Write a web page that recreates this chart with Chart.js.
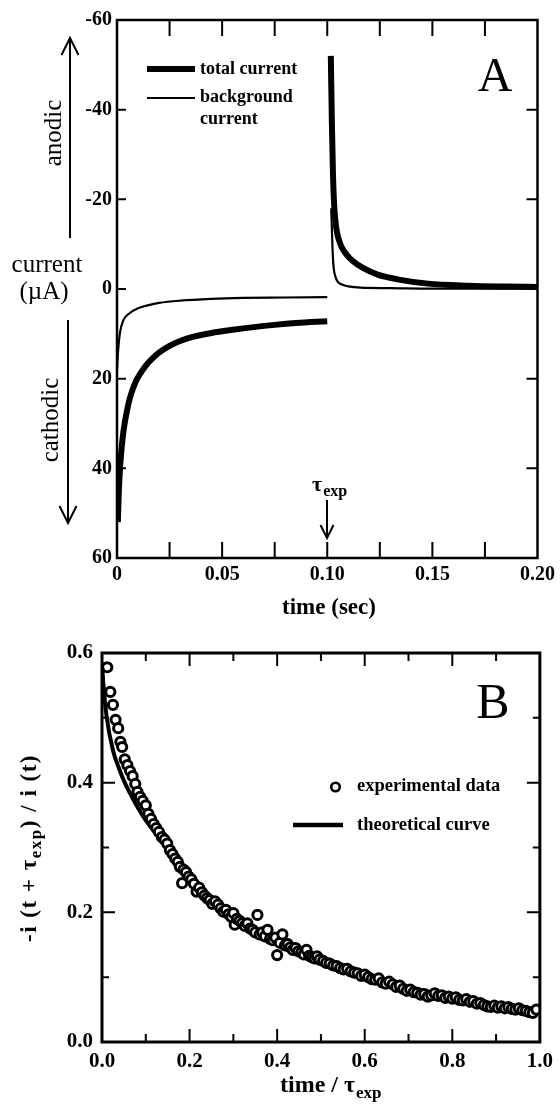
<!DOCTYPE html>
<html>
<head>
<meta charset="utf-8">
<script src="https://cdn.jsdelivr.net/npm/chart.js@4.4.0/dist/chart.umd.min.js"></script>
<style>
html, body { margin: 0; padding: 0; background: #fff; }
#wrapA { position: absolute; left: 0; top: 0; width: 560px; height: 620px; }
#wrapB { position: absolute; left: 0; top: 620px; width: 560px; height: 487px; }
</style>
</head>
<body>
<div id="wrapA"><canvas id="chartA" width="560" height="620"></canvas></div>
<div id="wrapB"><canvas id="chartB" width="560" height="487"></canvas></div>
<script>
// Panel A - current transients (sec, uA; cathodic plotted downward)
// a null current splits the trace at the potential step (tau_exp)
const totalTime = [0.0004, 0.0008, 0.0013, 0.002, 0.003, 0.004, 0.0055, 0.007, 0.009, 0.011, 0.014, 0.017, 0.02, 0.025, 0.03, 0.036, 0.045, 0.055, 0.065, 0.075, 0.085, 0.1,
    0.101,
    0.1017, 0.1022, 0.1027, 0.1032, 0.1038, 0.1045, 0.1055, 0.107, 0.109, 0.112, 0.117, 0.124, 0.134, 0.148, 0.167, 0.185, 0.2];
const totalCurrent = [52, 46, 41, 36.5, 32, 29, 25.5, 23, 20.6, 18.9, 16.9, 15.4, 14.2, 12.7, 11.6, 10.7, 9.8, 9.1, 8.5, 8.0, 7.6, 7.2,
    null,
    -52, -37, -26, -19.5, -15.5, -13, -11, -9.2, -7.8, -6.3, -4.7, -3.2, -2.1, -1.2, -0.75, -0.55, -0.45];
const bgTime = [0, 0.0005, 0.0014, 0.003, 0.006, 0.01, 0.015, 0.02, 0.03, 0.045, 0.06, 0.08, 0.1,
    0.101,
    0.1019, 0.1025, 0.103, 0.104, 0.105, 0.107, 0.11, 0.116, 0.13, 0.15, 0.2];
const bgCurrent = [18, 14, 9.8, 7, 5.4, 4.3, 3.6, 3.1, 2.6, 2.2, 2.0, 1.9, 1.8,
    null,
    -18, -9, -5, -2.6, -1.6, -1.0, -0.6, -0.3, -0.2, -0.1, -0.1];

const xTicksA = [0, 0.05, 0.1, 0.15, 0.2];
const xLabelsA = ['0', '0.05', '0.10', '0.15', '0.20'];
const xMarksA = [0.025, 0.05, 0.075, 0.1, 0.125, 0.15, 0.175];
const yTicksA = [-60, -40, -20, 0, 20, 40, 60];
const yLabelsA = ['-60', '-40', '-20', '0', '20', '40', '60'];
const yMarksA = [-40, -20, 0, 20, 40];

// Panel B - ratio -i(t+tau)/i(t) against t/tau
const expTime = [0.012, 0.019, 0.025, 0.031, 0.037, 0.042, 0.046, 0.052, 0.058, 0.064, 0.07, 0.076, 0.081, 0.087, 0.093, 0.1,
    0.106, 0.112, 0.118, 0.124, 0.13, 0.137, 0.143, 0.149, 0.155, 0.161, 0.167, 0.173, 0.178, 0.183, 0.186, 0.192, 0.198,
    0.204, 0.21, 0.216, 0.222, 0.228, 0.234, 0.24, 0.246, 0.252, 0.258, 0.265, 0.271, 0.277, 0.283, 0.289, 0.295, 0.3,
    0.303, 0.308, 0.314, 0.32, 0.326, 0.332, 0.338, 0.344, 0.35, 0.355, 0.36, 0.366, 0.372, 0.378, 0.384, 0.39, 0.396, 0.4,
    0.406, 0.412, 0.418, 0.424, 0.43, 0.436, 0.442, 0.448, 0.455, 0.461, 0.467, 0.473, 0.479, 0.485, 0.491, 0.497,
    0.505, 0.512, 0.52, 0.528, 0.536, 0.544, 0.552, 0.56, 0.568, 0.576, 0.584, 0.592, 0.6, 0.608, 0.616, 0.624, 0.632,
    0.64, 0.648, 0.656, 0.664, 0.672, 0.68, 0.688, 0.696, 0.704, 0.712, 0.72, 0.728, 0.736, 0.744, 0.752, 0.76, 0.768,
    0.776, 0.784, 0.792, 0.8, 0.808, 0.816, 0.824, 0.832, 0.84, 0.848, 0.856, 0.864, 0.872, 0.88, 0.888, 0.896, 0.904,
    0.912, 0.92, 0.928, 0.936, 0.944, 0.952, 0.96, 0.968, 0.976, 0.984, 0.992];
const expRatio = [0.578, 0.540, 0.520, 0.497, 0.484, 0.463, 0.455, 0.436, 0.427, 0.418, 0.410, 0.398, 0.386, 0.378, 0.372, 0.365,
    0.352, 0.344, 0.336, 0.330, 0.324, 0.316, 0.312, 0.306, 0.296, 0.290, 0.283, 0.278, 0.270, 0.245, 0.266, 0.262, 0.255,
    0.251, 0.244, 0.232, 0.238, 0.231, 0.226, 0.222, 0.219, 0.213, 0.217, 0.212, 0.206, 0.201, 0.204, 0.197, 0.193, 0.199,
    0.181, 0.190, 0.187, 0.183, 0.179, 0.183, 0.175, 0.173, 0.169, 0.196, 0.166, 0.169, 0.163, 0.173, 0.159, 0.157, 0.161, 0.134,
    0.153, 0.166, 0.149, 0.151, 0.146, 0.142, 0.145, 0.140, 0.138, 0.135, 0.142, 0.133, 0.131, 0.129, 0.132, 0.127,
    0.125, 0.122, 0.121, 0.118, 0.117, 0.114, 0.112, 0.113, 0.109, 0.107, 0.106, 0.102, 0.104, 0.100, 0.097, 0.096, 0.098,
    0.092, 0.090, 0.093, 0.089, 0.085, 0.087, 0.082, 0.079, 0.081, 0.077, 0.076, 0.073, 0.074, 0.070, 0.072, 0.075, 0.071,
    0.072, 0.068, 0.070, 0.067, 0.069, 0.065, 0.064, 0.066, 0.062, 0.063, 0.059, 0.060, 0.057, 0.055, 0.054, 0.056, 0.053,
    0.055, 0.052, 0.054, 0.051, 0.050, 0.052, 0.049, 0.048, 0.046, 0.045, 0.050];
const theoryTime = [0, 0.003, 0.0105, 0.025, 0.04, 0.052, 0.07, 0.085, 0.1, 0.123, 0.15, 0.175, 0.2, 0.25, 0.3, 0.35,
    0.4, 0.45, 0.5, 0.55, 0.6, 0.65, 0.7, 0.75, 0.8, 0.85, 0.9, 0.95, 1.0];
const theoryRatio = [0.585, 0.553, 0.502, 0.45, 0.42, 0.40, 0.376, 0.358, 0.342, 0.322, 0.298, 0.274, 0.252, 0.218, 0.192, 0.172,
    0.155, 0.14, 0.127, 0.115, 0.104, 0.094, 0.085, 0.077, 0.07, 0.064, 0.058, 0.053, 0.048];

const xTicksB = [0, 0.2, 0.4, 0.6, 0.8, 1.0];
const xLabelsB = ['0.0', '0.2', '0.4', '0.6', '0.8', '1.0'];
const xMarksB = [0.1, 0.2, 0.3, 0.4, 0.5, 0.6, 0.7, 0.8, 0.9];
const yTicksB = [0, 0.2, 0.4, 0.6];
const yLabelsB = ['0.0', '0.2', '0.4', '0.6'];
const yMarksB = [0.1, 0.2, 0.3, 0.4, 0.5];

const SERIF = '"Liberation Serif", "Times New Roman", serif';

function pairs(xs, ys) {
    return xs.map((x, i) => ({ x: x, y: ys[i] }));
}

function text(ctx, s, x, y, font, align) {
    ctx.font = font;
    ctx.textAlign = align || 'left';
    ctx.textBaseline = 'middle';
    ctx.fillText(s, x, y);
}

function vText(ctx, s, x, y, font) {
    ctx.save();
    ctx.translate(x, y);
    ctx.rotate(-Math.PI / 2);
    text(ctx, s, 0, 0, font, 'center');
    ctx.restore();
}

function arrow(ctx, x, y0, y1, head) {
    const dir = y1 < y0 ? 1 : -1;
    ctx.beginPath();
    ctx.moveTo(x, y0);
    ctx.lineTo(x, y1);
    ctx.moveTo(x - head * 0.5, y1 + dir * head);
    ctx.lineTo(x, y1);
    ctx.lineTo(x + head * 0.5, y1 + dir * head);
    ctx.stroke();
}

// tau with "exp" subscript, starting at x
function tauExp(ctx, x, y, size) {
    text(ctx, '\u03c4', x, y, 'bold ' + size + 'px ' + SERIF);
    const w = ctx.measureText('\u03c4').width;
    text(ctx, 'exp', x + w + 1, y + size * 0.3, 'bold ' + Math.round(size * 0.72) + 'px ' + SERIF);
    ctx.font = 'bold ' + Math.round(size * 0.72) + 'px ' + SERIF;
    return w + 1 + ctx.measureText('exp').width;
}

// frame and inward tick marks on all four sides
const frameTicks = {
    id: 'frameTicks',
    afterDatasetsDraw(chart, args, o) {
        const { ctx, chartArea: a, scales } = chart;
        ctx.save();
        ctx.strokeStyle = '#000';
        ctx.lineWidth = o.tickWidth;
        ctx.beginPath();
        o.xMarks.forEach(v => {
            const x = scales.x.getPixelForValue(v);
            const len = o.xMajor.includes(v) ? o.xLen[0] : o.xLen[1];
            ctx.moveTo(x, a.bottom); ctx.lineTo(x, a.bottom - len);
            ctx.moveTo(x, a.top); ctx.lineTo(x, a.top + len);
        });
        o.yMarks.forEach(v => {
            const y = scales.y.getPixelForValue(v);
            const major = o.yMajor.includes(v);
            ctx.moveTo(a.left, y); ctx.lineTo(a.left + (major ? o.yLen[0] : o.yLen[1]), y);
            ctx.moveTo(a.right, y); ctx.lineTo(a.right - (major ? o.yLen[2] : o.yLen[3]), y);
        });
        ctx.stroke();
        ctx.lineWidth = o.frame;
        ctx.strokeRect(a.left, a.top, a.right - a.left, a.bottom - a.top);
        ctx.restore();
    }
};

const annotA = {
    id: 'annotA',
    afterDraw(chart) {
        const ctx = chart.ctx;
        ctx.save();
        ctx.fillStyle = '#000';
        ctx.strokeStyle = '#000';
        // legend
        ctx.lineWidth = 6;
        ctx.beginPath(); ctx.moveTo(147, 69); ctx.lineTo(195, 69); ctx.stroke();
        ctx.lineWidth = 2.2;
        ctx.beginPath(); ctx.moveTo(147, 98); ctx.lineTo(195, 98); ctx.stroke();
        text(ctx, 'total current', 200, 69, 'bold 18px ' + SERIF);
        text(ctx, 'background', 200, 97, 'bold 18px ' + SERIF);
        text(ctx, 'current', 200, 119, 'bold 18px ' + SERIF);
        text(ctx, 'A', 495, 78, '48px ' + SERIF, 'center');
        // side labels
        vText(ctx, 'anodic', 54, 133, '25px ' + SERIF);
        vText(ctx, 'cathodic', 51, 420, '25px ' + SERIF);
        text(ctx, 'current', 47, 265, '25px ' + SERIF, 'center');
        text(ctx, '(\u00b5A)', 44, 292, '25px ' + SERIF, 'center');
        ctx.lineWidth = 2;
        arrow(ctx, 70, 238, 38, 17);
        arrow(ctx, 68, 320, 523, 17);
        // tau_exp marker
        tauExp(ctx, 312, 485, 22);
        arrow(ctx, 327, 500, 538, 13);
        text(ctx, 'time (sec)', 329, 608, 'bold 23px ' + SERIF, 'center');
        ctx.restore();
    }
};

const annotB = {
    id: 'annotB',
    afterDraw(chart) {
        const ctx = chart.ctx;
        ctx.save();
        ctx.fillStyle = '#000';
        ctx.strokeStyle = '#000';
        // legend
        ctx.lineWidth = 2.6;
        ctx.beginPath(); ctx.arc(335.5, 167, 4.3, 0, Math.PI * 2); ctx.stroke();
        ctx.lineWidth = 4.5;
        ctx.beginPath(); ctx.moveTo(293, 205); ctx.lineTo(343, 205); ctx.stroke();
        text(ctx, 'experimental data', 357, 166, 'bold 18.5px ' + SERIF);
        text(ctx, 'theoretical curve', 357, 205, 'bold 18.5px ' + SERIF);
        text(ctx, 'B', 493, 85, '50px ' + SERIF, 'center');
        // x title: time / tau_exp
        const size = 24;
        ctx.font = 'bold ' + size + 'px ' + SERIF;
        const head = 'time / ';
        const hw = ctx.measureText(head).width;
        const x0 = 330 - (hw + 36) / 2;
        text(ctx, head, x0, 466, 'bold ' + size + 'px ' + SERIF);
        tauExp(ctx, x0 + hw, 466, size);
        // y title, rotated: -i (t + tau_exp) / i (t)
        ctx.save();
        ctx.translate(30, 228);
        ctx.rotate(-Math.PI / 2);
        ctx.letterSpacing = '1.5px';
        const f = 'bold 23px ' + SERIF;
        const sf = 'bold 17px ' + SERIF;
        ctx.font = f;
        const p1 = '-i (t + \u03c4', p2 = ') / i (t)';
        const w1 = ctx.measureText(p1).width, w3 = ctx.measureText(p2).width;
        ctx.font = sf;
        const w2 = ctx.measureText('exp').width;
        let x = -(w1 + w2 + w3) / 2;
        text(ctx, p1, x, 0, f); x += w1;
        text(ctx, 'exp', x, 7, sf); x += w2;
        text(ctx, p2, x, 0, f);
        ctx.restore();
        ctx.restore();
    }
};

function tickFont(size) {
    return { family: SERIF, size: size, weight: 'bold' };
}

new Chart(document.getElementById('chartA'), {
    type: 'line',
    data: {
        datasets: [{
            label: 'total current',
            data: pairs(totalTime, totalCurrent),
            borderColor: '#000',
            borderWidth: 6,
            pointRadius: 0,
            cubicInterpolationMode: 'monotone',
            spanGaps: false
        }, {
            label: 'background current',
            data: pairs(bgTime, bgCurrent),
            borderColor: '#000',
            borderWidth: 2.2,
            pointRadius: 0,
            cubicInterpolationMode: 'monotone',
            spanGaps: false
        }]
    },
    options: {
        responsive: false,
        animation: false,
        layout: { padding: { left: 0, top: 20, right: 18, bottom: 0 } },
        plugins: {
            legend: { display: false },
            tooltip: { enabled: false },
            frameTicks: {
                xMarks: xMarksA, xMajor: xMarksA, xLen: [16, 16],
                yMarks: yMarksA, yMajor: yMarksA, yLen: [9, 9, 11, 11],
                tickWidth: 2, frame: 2.5
            }
        },
        scales: {
            x: {
                type: 'linear', min: 0, max: 0.2,
                grid: { display: false, drawTicks: false },
                border: { display: false },
                afterBuildTicks: s => { s.ticks = xTicksA.map(v => ({ value: v })); },
                afterFit: s => { s.height = 62; },
                ticks: {
                    color: '#000', font: tickFont(20), padding: 5, maxRotation: 0, autoSkip: false,
                    callback: (v, i) => xLabelsA[i]
                }
            },
            y: {
                type: 'linear', min: -60, max: 60, reverse: true,
                grid: { display: false, drawTicks: false },
                border: { display: false },
                afterBuildTicks: s => { s.ticks = yTicksA.map(v => ({ value: v })); },
                afterFit: s => { s.width = 117; },
                ticks: {
                    color: '#000', font: tickFont(20), padding: 5, autoSkip: false,
                    callback: (v, i) => yLabelsA[i]
                }
            }
        }
    },
    plugins: [frameTicks, annotA]
});

new Chart(document.getElementById('chartB'), {
    type: 'line',
    data: {
        datasets: [{
            label: 'experimental data',
            data: pairs(expTime, expRatio),
            showLine: false,
            pointRadius: 4.6,
            pointBorderWidth: 3,
            pointBorderColor: '#000',
            pointBackgroundColor: '#fff'
        }, {
            label: 'theoretical curve',
            data: pairs(theoryTime, theoryRatio),
            borderColor: '#000',
            borderWidth: 4,
            pointRadius: 0,
            cubicInterpolationMode: 'monotone'
        }]
    },
    options: {
        responsive: false,
        animation: false,
        layout: { padding: { left: 0, top: 33, right: 13, bottom: 0 } },
        plugins: {
            legend: { display: false },
            tooltip: { enabled: false },
            frameTicks: {
                xMarks: xMarksB, xMajor: [0.2, 0.4, 0.6, 0.8], xLen: [13, 8],
                yMarks: yMarksB, yMajor: [0.2, 0.4], yLen: [13, 7, 13, 7],
                tickWidth: 2, frame: 3
            }
        },
        scales: {
            x: {
                type: 'linear', min: 0, max: 1,
                grid: { display: false, drawTicks: false },
                border: { display: false },
                afterBuildTicks: s => { s.ticks = xTicksB.map(v => ({ value: v })); },
                afterFit: s => { s.height = 65; },
                ticks: {
                    color: '#000', font: tickFont(21), padding: 7, maxRotation: 0, autoSkip: false,
                    callback: (v, i) => xLabelsB[i]
                }
            },
            y: {
                type: 'linear', min: 0, max: 0.6,
                grid: { display: false, drawTicks: false },
                border: { display: false },
                afterBuildTicks: s => { s.ticks = yTicksB.map(v => ({ value: v })); },
                afterFit: s => { s.width = 102; },
                ticks: {
                    color: '#000', font: tickFont(21), padding: 9, autoSkip: false,
                    callback: (v, i) => yLabelsB[i]
                }
            }
        }
    },
    plugins: [frameTicks, annotB]
});
</script>
</body>
</html>
